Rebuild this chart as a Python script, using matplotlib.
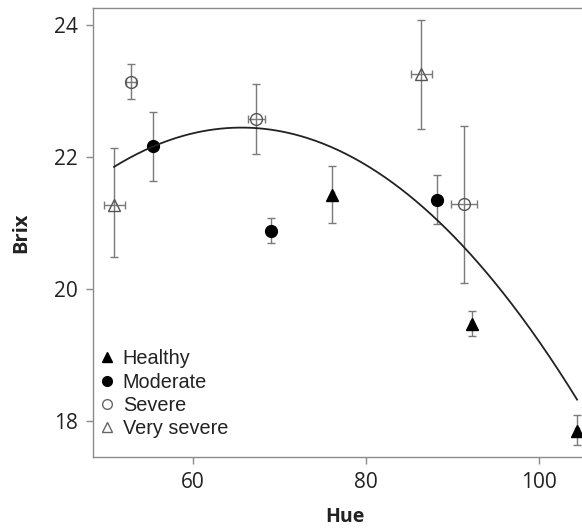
import matplotlib
matplotlib.use("Agg")
import matplotlib.pyplot as plt
import numpy as np
from matplotlib.lines import Line2D

# ---- data ----
groups = ["Healthy", "Moderate", "Severe", "Very severe"]
healthy_hue = [76.1, 92.2, 104.4]
healthy_brix = [21.43, 19.47, 17.84]
healthy_hue_err = [0.2, 0.2, 0.2]
healthy_brix_lo = [21.00, 19.29, 17.63]
healthy_brix_hi = [21.87, 19.66, 18.08]

moderate_hue = [55.4, 69.0, 88.2]
moderate_brix = [22.17, 20.88, 21.35]
moderate_hue_err = [0.4, 0.2, 0.5]
moderate_brix_lo = [21.63, 20.70, 20.98]
moderate_brix_hi = [22.69, 21.08, 21.73]

severe_hue = [52.8, 67.3, 91.3]
severe_brix = [23.14, 22.58, 21.29]
severe_hue_err = [0.6, 1.0, 1.5]
severe_brix_lo = [22.88, 22.04, 20.09]
severe_brix_hi = [23.41, 23.11, 22.47]

vsevere_hue = [50.9, 86.4]
vsevere_brix = [21.27, 23.26]
vsevere_hue_err = [1.2, 1.2]
vsevere_brix_lo = [20.48, 22.43]
vsevere_brix_hi = [22.14, 24.08]

# quadratic fit coefficients (c2, c1, c0) and x range of the fitted curve
fit_coefs = [-0.002742, 0.3598, 10.643]
fit_range = [50.87, 104.4]

x_ticks = [60, 80, 100]
y_ticks = [18, 20, 22, 24]

# ---- figure ----
W, H = 582, 529
fig = plt.figure(figsize=(W / 100, H / 100), dpi=100)
left, right, top, bottom = 93, 597, 8, 457
ax = fig.add_axes([left / W, 1 - bottom / H, (right - left) / W, (bottom - top) / H])
ax.set_xlim(48.44, 106.7)
ax.set_ylim(17.45, 24.26)

ecol = "#7a7a7a"
series = [
    (healthy_hue, healthy_brix, healthy_hue_err, healthy_brix_lo, healthy_brix_hi, "^", "black", "black", 9),
    (moderate_hue, moderate_brix, moderate_hue_err, moderate_brix_lo, moderate_brix_hi, "o", "black", "black", 8.5),
    (severe_hue, severe_brix, severe_hue_err, severe_brix_lo, severe_brix_hi, "o", "none", "#555555", 8.5),
    (vsevere_hue, vsevere_brix, vsevere_hue_err, vsevere_brix_lo, vsevere_brix_hi, "^", "none", "#555555", 9),
]
for xs, ys, xe, lo, hi, m, fc, ec, ms in series:
    xs = np.array(xs); ys = np.array(ys)
    yerr = np.vstack([ys - np.array(lo), np.array(hi) - ys])
    ax.errorbar(xs, ys, yerr=yerr, xerr=xe, fmt="none", ecolor=ecol,
                elinewidth=1.0, capsize=3.0, capthick=1.0, zorder=2)
    ax.plot(xs, ys, linestyle="none", marker=m, markersize=ms,
            markerfacecolor=fc, markeredgecolor=ec, markeredgewidth=1.0, zorder=3)

xc = np.linspace(fit_range[0], fit_range[1], 300)
ax.plot(xc, np.polyval(fit_coefs, xc), color="#222222", linewidth=1.3, zorder=4)

# axes styling
for s in ["left", "bottom", "top"]:
    ax.spines[s].set_color("#8a8a8a")
    ax.spines[s].set_linewidth(1.0)
ax.spines["right"].set_visible(False)
ax.set_xticks(x_ticks)
ax.set_yticks(y_ticks)
ax.tick_params(axis="both", direction="out", length=5, width=1.0, color="#8a8a8a",
               labelsize=15, labelcolor="#222222", pad=6)
for lab in ax.get_xticklabels() + ax.get_yticklabels():
    lab.set_family("Open Sans")

ax.set_xlabel("Hue", fontsize=14, fontweight="bold", family="Open Sans", labelpad=10, color="#222222")
ax.set_ylabel("Brix", fontsize=14.5, fontweight="bold", family="Open Sans", labelpad=16, color="#222222")

handles = [
    Line2D([], [], linestyle="none", marker="^", markersize=7, markerfacecolor="black", markeredgecolor="black"),
    Line2D([], [], linestyle="none", marker="o", markersize=7, markerfacecolor="black", markeredgecolor="black"),
    Line2D([], [], linestyle="none", marker="o", markersize=7, markerfacecolor="none", markeredgecolor="#666666"),
    Line2D([], [], linestyle="none", marker="^", markersize=7, markerfacecolor="none", markeredgecolor="#666666"),
]
leg = ax.legend(handles, groups, loc="lower left", bbox_to_anchor=(-0.01, 0.015), frameon=False,
                prop={"family": "Liberation Sans", "size": 14.3}, handlelength=0.7,
                handletextpad=0.45, labelspacing=0.22, borderaxespad=0.2)
for t in leg.get_texts():
    t.set_color("#222222")

fig.savefig("out.png", dpi=100)
